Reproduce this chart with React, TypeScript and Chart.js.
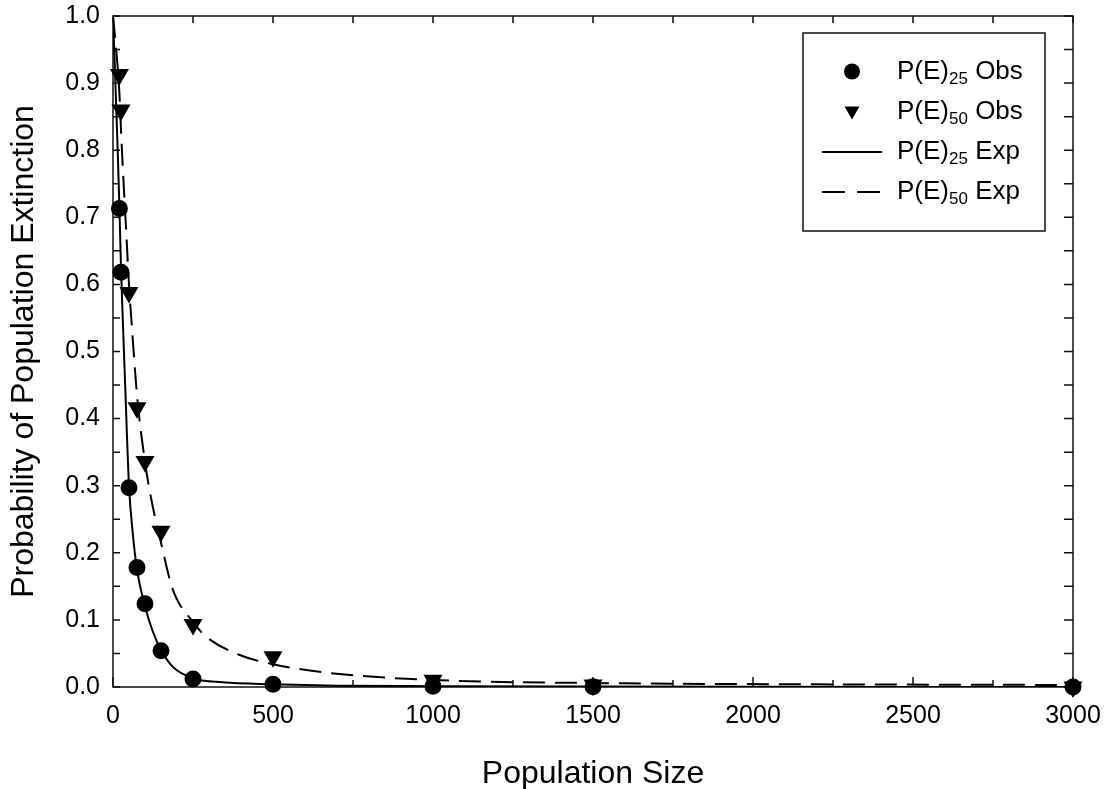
import React, { useEffect, useRef } from "react";
import { Chart, registerables } from "chart.js";

Chart.register(...registerables);

// Observed population sizes
const xObs = [20, 25, 50, 75, 100, 150, 250, 500, 1000, 1500, 3000];
const p25Obs = [0.713, 0.618, 0.297, 0.178, 0.124, 0.054, 0.012, 0.004, 0.001, 0.0005, 0.0];
const p50Obs = [0.913, 0.86, 0.588, 0.416, 0.336, 0.232, 0.093, 0.045, 0.01, 0.003, 0.0];

// Expected curves
const xExp25 = [0, 5, 10, 15, 20, 25, 30, 38, 50, 62, 75, 100, 125, 150, 187, 250, 342, 500, 700, 1000, 1500, 2000, 3000];
const p25Exp = [1.0, 0.935, 0.865, 0.795, 0.715, 0.625, 0.555, 0.45, 0.3, 0.228, 0.175, 0.12, 0.082, 0.055, 0.03, 0.013, 0.007, 0.004, 0.002, 0.0012, 0.0006, 0.0003, 0.0001];
const xExp50 = [0, 10, 20, 25, 30, 40, 50, 60, 75, 100, 120, 150, 187, 250, 291, 394, 500, 675, 1000, 1600, 2200, 3000];
const p50Exp = [1.0, 0.95, 0.885, 0.83, 0.78, 0.69, 0.6, 0.53, 0.435, 0.335, 0.279, 0.215, 0.145, 0.097, 0.075, 0.048, 0.034, 0.021, 0.0105, 0.0055, 0.004, 0.003];

const xTickStep = 500;
const xMinorStep = 250;
const yTickStep = 0.1;
const yMinorStep = 0.05;

const legendLabels = [
  { main: "P(E)", sub: "25", tail: " Obs", kind: "circle" },
  { main: "P(E)", sub: "50", tail: " Obs", kind: "triangle" },
  { main: "P(E)", sub: "25", tail: " Exp", kind: "solid" },
  { main: "P(E)", sub: "50", tail: " Exp", kind: "dashed" },
];

const FONT = "'Liberation Sans', Arial, sans-serif";

const toPts = (xs: number[], ys: number[]) => xs.map((x, i) => ({ x, y: ys[i] }));

const framePlugin = {
  id: "frameTicks",
  beforeDatasetsDraw(chart: any) {
    const { ctx, chartArea } = chart;
    const { left, right, top, bottom } = chartArea;
    const xs = chart.scales.x;
    const ys = chart.scales.y;
    ctx.save();
    ctx.strokeStyle = "#111";
    ctx.lineWidth = 1.5;
    ctx.strokeRect(left, top, right - left, bottom - top);
    ctx.beginPath();
    for (let v = 0; v <= 3000 + 1e-6; v += xMinorStep) {
      const px = xs.getPixelForValue(v);
      const major = Math.abs(v / xTickStep - Math.round(v / xTickStep)) < 1e-6;
      const len = major ? 10 : 7;
      ctx.moveTo(px, bottom);
      ctx.lineTo(px, bottom - len);
      ctx.moveTo(px, top);
      ctx.lineTo(px, top + 7);
    }
    for (let v = 0; v <= 1 + 1e-6; v += yMinorStep) {
      const py = ys.getPixelForValue(v);
      ctx.moveTo(left, py);
      ctx.lineTo(left + 7, py);
      ctx.moveTo(right, py);
      ctx.lineTo(right - 9, py);
    }
    ctx.stroke();

    // axis titles
    ctx.fillStyle = "#000";
    ctx.font = `32px ${FONT}`;
    ctx.textAlign = "center";
    ctx.textBaseline = "alphabetic";
    ctx.fillText("Population Size", (left + right) / 2, 783);
    ctx.translate(33, (top + bottom) / 2);
    ctx.rotate(-Math.PI / 2);
    ctx.fillText("Probability of Population Extinction", 0, 0);
    ctx.restore();
  },
  afterDraw(chart: any) {
    const { ctx } = chart;
    ctx.save();
    // legend box
    ctx.strokeStyle = "#111";
    ctx.lineWidth = 1.5;
    ctx.fillStyle = "#fff";
    ctx.fillRect(803, 33, 242, 198);
    ctx.strokeRect(803, 33, 242, 198);
    const baselines = [78.5, 118.5, 159, 199];
    legendLabels.forEach((item, i) => {
      const b = baselines[i];
      const cy = b - 7;
      ctx.fillStyle = "#000";
      ctx.strokeStyle = "#000";
      if (item.kind === "circle") {
        ctx.beginPath();
        ctx.arc(852, cy, 8, 0, Math.PI * 2);
        ctx.fill();
      } else if (item.kind === "triangle") {
        ctx.beginPath();
        ctx.moveTo(844.5, cy - 5);
        ctx.lineTo(859.5, cy - 5);
        ctx.lineTo(852, cy + 8);
        ctx.closePath();
        ctx.fill();
      } else {
        ctx.lineWidth = 2;
        ctx.setLineDash(item.kind === "dashed" ? [23, 12] : []);
        ctx.beginPath();
        ctx.moveTo(822, cy);
        ctx.lineTo(882, cy);
        ctx.stroke();
        ctx.setLineDash([]);
      }
      ctx.textAlign = "left";
      ctx.textBaseline = "alphabetic";
      let x = 897;
      ctx.font = `26px ${FONT}`;
      ctx.fillText(item.main, x, b);
      x += ctx.measureText(item.main).width;
      ctx.font = `17px ${FONT}`;
      ctx.fillText(item.sub, x, b + 5);
      x += ctx.measureText(item.sub).width;
      ctx.font = `26px ${FONT}`;
      ctx.fillText(item.tail, x, b);
    });
    ctx.restore();
  },
};

export default function App() {
  const ref = useRef<HTMLCanvasElement | null>(null);
  useEffect(() => {
    if (!ref.current) return;
    const chart = new Chart(ref.current, {
      type: "scatter",
      data: {
        datasets: [
          {
            label: "P(E)25 Obs",
            data: toPts(xObs, p25Obs),
            pointStyle: "circle",
            pointRadius: 8.5,
            backgroundColor: "#000",
            borderColor: "#000",
            borderWidth: 0,
            showLine: false,
            clip: false,
            order: 0,
          },
          {
            label: "P(E)50 Obs",
            data: toPts(xObs, p50Obs),
            pointStyle: "triangle",
            pointRotation: 180,
            pointRadius: 11,
            backgroundColor: "#000",
            borderColor: "#000",
            borderWidth: 0,
            showLine: false,
            clip: false,
            order: 0,
          },
          {
            label: "P(E)25 Exp",
            data: toPts(xExp25, p25Exp),
            showLine: true,
            pointRadius: 0,
            borderColor: "#000",
            borderWidth: 2,
            cubicInterpolationMode: "monotone",
            order: 1,
          } as any,
          {
            label: "P(E)50 Exp",
            data: toPts(xExp50, p50Exp),
            showLine: true,
            pointRadius: 0,
            borderColor: "#000",
            borderWidth: 2,
            borderDash: [22, 10],
            cubicInterpolationMode: "monotone",
            order: 1,
          } as any,
        ],
      },
      options: {
        animation: false,
        responsive: false,
        devicePixelRatio: 1,
        layout: { padding: { left: 0, top: 16, right: 36, bottom: 0 } },
        plugins: { legend: { display: false }, tooltip: { enabled: false } },
        scales: {
          x: {
            type: "linear",
            min: 0,
            max: 3000,
            grid: { display: false, drawTicks: false },
            border: { display: false },
            ticks: {
              stepSize: xTickStep,
              padding: 14,
              color: "#000",
              font: { family: FONT, size: 25 },
              maxRotation: 0,
              callback: (v: any) => String(Math.round(Number(v))),
            },
            afterFit: (s: any) => {
              s.height = 102;
              s.paddingLeft = 0;
              s.paddingRight = 0;
            },
          },
          y: {
            type: "linear",
            min: 0,
            max: 1,
            grid: { display: false, drawTicks: false },
            border: { display: false },
            ticks: {
              stepSize: yTickStep,
              padding: 13,
              color: "#000",
              font: { family: FONT, size: 25 },
              callback: (v: any) => Number(v).toFixed(1),
            },
            afterFit: (s: any) => {
              s.width = 113;
              s.paddingTop = 0;
              s.paddingBottom = 0;
            },
          },
        },
      },
      plugins: [framePlugin],
    });
    return () => chart.destroy();
  }, []);
  return (
    <div style={{ position: "absolute", left: 0, top: 0, width: 1109, height: 789, background: "#fff" }}>
      <canvas ref={ref} width={1109} height={789} style={{ display: "block" }} />
    </div>
  );
}
